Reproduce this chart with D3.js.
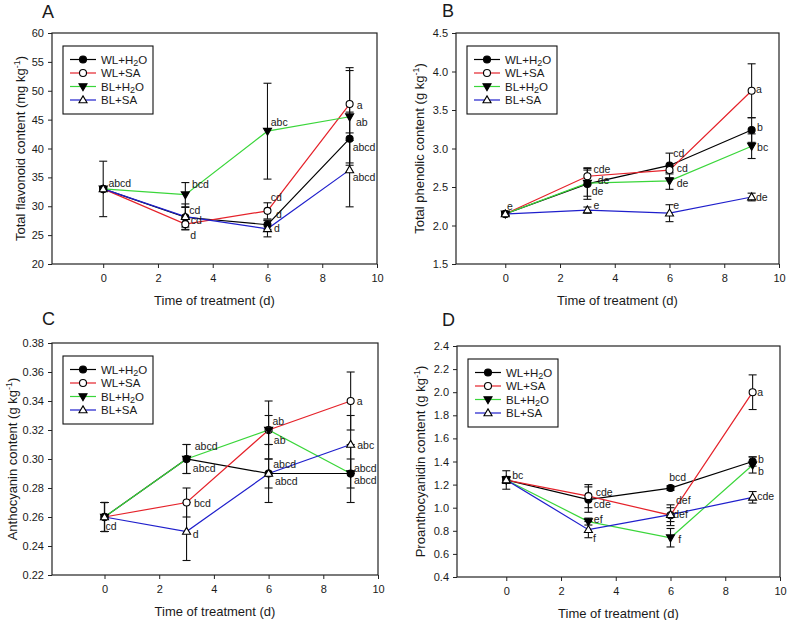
<!DOCTYPE html>
<html><head><meta charset="utf-8">
<script src="https://cdn.jsdelivr.net/npm/d3@7"></script>
<style>
body{margin:0;background:#fff}
svg{display:block}
text{font-family:"Liberation Sans",Arial,sans-serif;fill:#1a1a1a}
</style>
</head><body>
<svg id="chart" width="787" height="620"></svg>
<script>
// ---------- data ----------
const days = [0, 3, 6, 9];
const seriesNames = ["WL+H2O", "WL+SA", "BL+H2O", "BL+SA"];
const seriesColors = ["#000000", "#e5222a", "#3ad63a", "#1f1fcc"];
const seriesMarkers = ["circleFilled", "circleOpen", "triDownFilled", "triUpOpen"];
const xTicks = [0, 2, 4, 6, 8, 10];

// A: total flavonoid (mg/kg)
const flavonoidMeans = [
  [33.0, 28.1, 26.8, 41.7],
  [33.0, 26.9, 29.2, 47.7],
  [33.0, 32.0, 43.0, 45.5],
  [33.0, 28.2, 26.1, 36.3]
];
const flavonoidErrors = [
  [4.8, 1.7, 0.8, 4.6],
  [0.3, 1.0, 1.4, 6.3],
  [0.3, 2.1, 8.3, 8.0],
  [0.3, 2.2, 1.4, 6.4]
];
const flavonoidTicks = [20, 25, 30, 35, 40, 45, 50, 55, 60];
const flavonoidLabels = [
  ["abcd", 0.19, 34.0], ["bcd", 3.24, 33.8], ["cd", 3.14, 29.35], ["cd", 3.2, 27.5], ["d", 3.18, 25.0],
  ["abc", 6.12, 44.5], ["cd", 6.12, 31.5], ["d", 6.31, 28.6], ["d", 6.24, 26.2],
  ["a", 9.26, 47.5], ["ab", 9.23, 44.5], ["abcd", 9.11, 40.3], ["abcd", 9.11, 35.1]
];

// B: total phenolic (g/kg)
const phenolicMeans = [
  [2.15, 2.54, 2.78, 3.24],
  [2.15, 2.64, 2.72, 3.75],
  [2.15, 2.55, 2.58, 3.03],
  [2.15, 2.20, 2.16, 2.37]
];
const phenolicErrors = [
  [0.02, 0.20, 0.16, 0.16],
  [0.02, 0.11, 0.05, 0.35],
  [0.02, 0.17, 0.11, 0.16],
  [0.02, 0.04, 0.11, 0.05]
];
const phenolicTicks = [1.5, 2.0, 2.5, 3.0, 3.5, 4.0, 4.5];
const phenolicLabels = [
  ["e", 0.06, 2.25], ["cde", 3.22, 2.725], ["de", 3.38, 2.585], ["de", 3.16, 2.44], ["e", 3.22, 2.26],
  ["cd", 6.14, 2.94], ["cd", 6.26, 2.75], ["de", 6.26, 2.55], ["e", 6.14, 2.26],
  ["a", 9.16, 3.77], ["b", 9.2, 3.27], ["bc", 9.2, 3.02], ["de", 9.16, 2.37]
];

// C: anthocyanin (g/kg)
const anthocyaninMeans = [
  [0.26, 0.30, 0.29, 0.29],
  [0.26, 0.27, 0.32, 0.34],
  [0.26, 0.30, 0.32, 0.29],
  [0.26, 0.25, 0.29, 0.31]
];
const anthocyaninErrors = [
  [0.01, 0.01, 0.02, 0.02],
  [0.01, 0.01, 0.02, 0.02],
  [0.01, 0.01, 0.01, 0.01],
  [0.01, 0.02, 0.01, 0.02]
];
const anthocyaninTicks = [0.22, 0.24, 0.26, 0.28, 0.30, 0.32, 0.34, 0.36, 0.38];
const anthocyaninLabels = [
  ["cd", 0.04, 0.2533], ["abcd", 3.3, 0.3086], ["abcd", 3.23, 0.2937], ["bcd", 3.27, 0.2696], ["d", 3.23, 0.2482],
  ["ab", 6.14, 0.3263], ["ab", 6.19, 0.3127], ["abcd", 6.17, 0.2967], ["abcd", 6.23, 0.2849],
  ["a", 9.22, 0.3397], ["abc", 9.24, 0.3098], ["abcd", 9.12, 0.2937], ["abcd", 9.12, 0.2856]
];

// D: proanthocyanidin (g/kg)
const proanthMeans = [
  [1.24, 1.07, 1.17, 1.40],
  [1.24, 1.10, 0.935, 2.00],
  [1.24, 0.88, 0.74, 1.37],
  [1.24, 0.81, 0.94, 1.09]
];
const proanthErrors = [
  [0.08, 0.11, 0.02, 0.04],
  [0.03, 0.10, 0.09, 0.15],
  [0.03, 0.03, 0.08, 0.07],
  [0.03, 0.07, 0.06, 0.05]
];
const proanthTicks = [0.4, 0.6, 0.8, 1.0, 1.2, 1.4, 1.6, 1.8, 2.0, 2.2, 2.4];
const proanthLabels = [
  ["bc", 0.22, 1.281], ["cde", 3.27, 1.131], ["cde", 3.2, 1.027], ["ef", 3.2, 0.899], ["f", 3.17, 0.732],
  ["bcd", 5.95, 1.267], ["def", 6.2, 1.064], ["def", 6.1, 0.94], ["f", 6.28, 0.723],
  ["a", 9.17, 2.004], ["b", 9.2, 1.417], ["b", 9.2, 1.318], ["cde", 9.17, 1.099]
];

// ---------- layout ----------
const panels = [
  {letter: "A", title: "Total flavonoid content (mg kg", means: flavonoidMeans, errs: flavonoidErrors,
   ticks: flavonoidTicks, fmt: d3.format("d"), labels: flavonoidLabels,
   box: {l: 52, r: 377, t: 33, b: 264}, xMin: -1.87, yTitleX: 20, letterPos: [42, 18]},
  {letter: "B", title: "Total  phenolic content (g kg", means: phenolicMeans, errs: phenolicErrors,
   ticks: phenolicTicks, fmt: d3.format(".1f"), labels: phenolicLabels,
   box: {l: 456, r: 779, t: 33, b: 264}, xMin: -1.8, yTitleX: 419, letterPos: [442, 17]},
  {letter: "C", title: "Anthocyanin content (g kg", means: anthocyaninMeans, errs: anthocyaninErrors,
   ticks: anthocyaninTicks, fmt: d3.format(".2f"), labels: anthocyaninLabels,
   box: {l: 52, r: 378, t: 343, b: 575}, xMin: -1.92, yTitleX: 12, letterPos: [42, 325]},
  {letter: "D", title: "Proanthocyanidin content (g kg", means: proanthMeans, errs: proanthErrors,
   ticks: proanthTicks, fmt: d3.format(".1f"), labels: proanthLabels,
   box: {l: 457, r: 780, t: 346, b: 577}, xMin: -1.8, yTitleX: 420, letterPos: [442, 326]}
];

const svg = d3.select("#chart");
const axisColor = "#222";

function drawMarker(sel, type, cx, cy) {
  if (type.startsWith("circle")) {
    sel.append("circle").attr("cx", cx).attr("cy", cy).attr("r", 3.5)
      .attr("fill", type === "circleFilled" ? "#000" : "#fff")
      .attr("stroke", "#000").attr("stroke-width", 1.1);
  } else {
    const down = type.startsWith("triDown");
    sel.append("path").attr("d", d3.symbol(d3.symbolTriangle, 28)())
      .attr("transform", `translate(${cx},${cy + (down ? -0.5 : 0.5)}) rotate(${down ? 180 : 0})`)
      .attr("fill", type.endsWith("Filled") ? "#000" : "#fff")
      .attr("stroke", "#000").attr("stroke-width", 1.1);
  }
}

function addSeriesName(textSel, name) {
  const m = name.match(/^(.*H)2(O)$/);
  if (m) {
    textSel.append("tspan").text(m[1]);
    textSel.append("tspan").attr("dy", 2.5).attr("font-size", 9).text("2");
    textSel.append("tspan").attr("dy", -2.5).text(m[2]);
  } else textSel.text(name);
}

panels.forEach(p => {
  const g = svg.append("g");
  const x = d3.scaleLinear().domain([p.xMin, 10]).range([p.box.l, p.box.r]);
  const y = d3.scaleLinear().domain([p.ticks[0], p.ticks[p.ticks.length - 1]]).range([p.box.b, p.box.t]);

  // axes
  const xa = g.append("g").attr("transform", `translate(0,${p.box.b})`)
    .call(d3.axisBottom(x).tickValues(xTicks).tickFormat(d3.format("d")).tickSize(4).tickSizeOuter(0).tickPadding(6));
  const ya = g.append("g").attr("transform", `translate(${p.box.l},0)`)
    .call(d3.axisLeft(y).tickValues(p.ticks).tickFormat(p.fmt).tickSize(4).tickSizeOuter(0).tickPadding(4));
  [xa, ya].forEach(a => {
    a.select(".domain").remove();
    a.selectAll("line").attr("stroke", axisColor);
    a.selectAll("text").attr("font-size", 11).attr("fill", "#1a1a1a")
      .attr("font-family", '"Liberation Sans",Arial,sans-serif');
  });
  // frame
  g.append("rect").attr("x", p.box.l).attr("y", p.box.t)
    .attr("width", p.box.r - p.box.l).attr("height", p.box.b - p.box.t)
    .attr("fill", "none").attr("stroke", axisColor).attr("stroke-width", 1.2);

  // lines
  const line = d3.line().x((d, i) => x(days[i])).y(d => y(d));
  p.means.forEach((s, k) => {
    g.append("path").attr("d", line(s)).attr("fill", "none")
      .attr("stroke", seriesColors[k]).attr("stroke-width", 1.2);
  });
  // error bars
  p.means.forEach((s, k) => {
    s.forEach((m, i) => {
      const e = p.errs[k][i];
      const cx = x(days[i]), y1 = y(m - e), y2 = y(m + e);
      g.append("line").attr("x1", cx).attr("x2", cx).attr("y1", y1).attr("y2", y2)
        .attr("stroke", "#111").attr("stroke-width", 1.1);
      [y1, y2].forEach(yy => g.append("line").attr("x1", cx - 4).attr("x2", cx + 4)
        .attr("y1", yy).attr("y2", yy).attr("stroke", "#111").attr("stroke-width", 1.1));
    });
  });
  // markers
  p.means.forEach((s, k) => {
    s.forEach((m, i) => drawMarker(g, seriesMarkers[k], x(days[i]), y(m)));
  });
  // significance labels
  p.labels.forEach(([t, lx, ly]) => {
    g.append("text").attr("x", x(lx)).attr("y", y(ly)).attr("dy", "0.36em")
      .attr("font-size", 10.5).text(t);
  });

  // legend
  const lx0 = p.box.l + 11, ly0 = p.box.t + 13;
  const lg = g.append("g");
  lg.append("rect").attr("x", lx0).attr("y", ly0).attr("width", 90).attr("height", 68)
    .attr("fill", "#fff").attr("stroke", "#111").attr("stroke-width", 1.1);
  seriesNames.forEach((n, k) => {
    const yy = ly0 + 13.5 + k * 13.5;
    lg.append("line").attr("x1", lx0 + 7).attr("x2", lx0 + 33).attr("y1", yy).attr("y2", yy)
      .attr("stroke", seriesColors[k]).attr("stroke-width", 1.2);
    drawMarker(lg, seriesMarkers[k], lx0 + 20, yy);
    const t = lg.append("text").attr("x", lx0 + 38).attr("y", yy).attr("dy", "0.36em")
      .attr("font-size", 11.5);
    addSeriesName(t, n);
  });

  // axis titles
  g.append("text").attr("x", (p.box.l + p.box.r) / 2).attr("y", p.box.b + 41)
    .attr("text-anchor", "middle").attr("font-size", 13).text("Time of treatment (d)");
  const yt = g.append("text")
    .attr("transform", `translate(${p.yTitleX},${(p.box.t + p.box.b) / 2}) rotate(-90)`)
    .attr("text-anchor", "middle").attr("dy", "0.36em").attr("font-size", 13);
  yt.append("tspan").text(p.title);
  yt.append("tspan").attr("dy", -5).attr("font-size", 9).text("-1");
  yt.append("tspan").attr("dy", 5).text(")");

  // panel letter
  g.append("text").attr("x", p.letterPos[0]).attr("y", p.letterPos[1])
    .attr("font-size", 18).text(p.letter);
});
</script>
</body></html>
